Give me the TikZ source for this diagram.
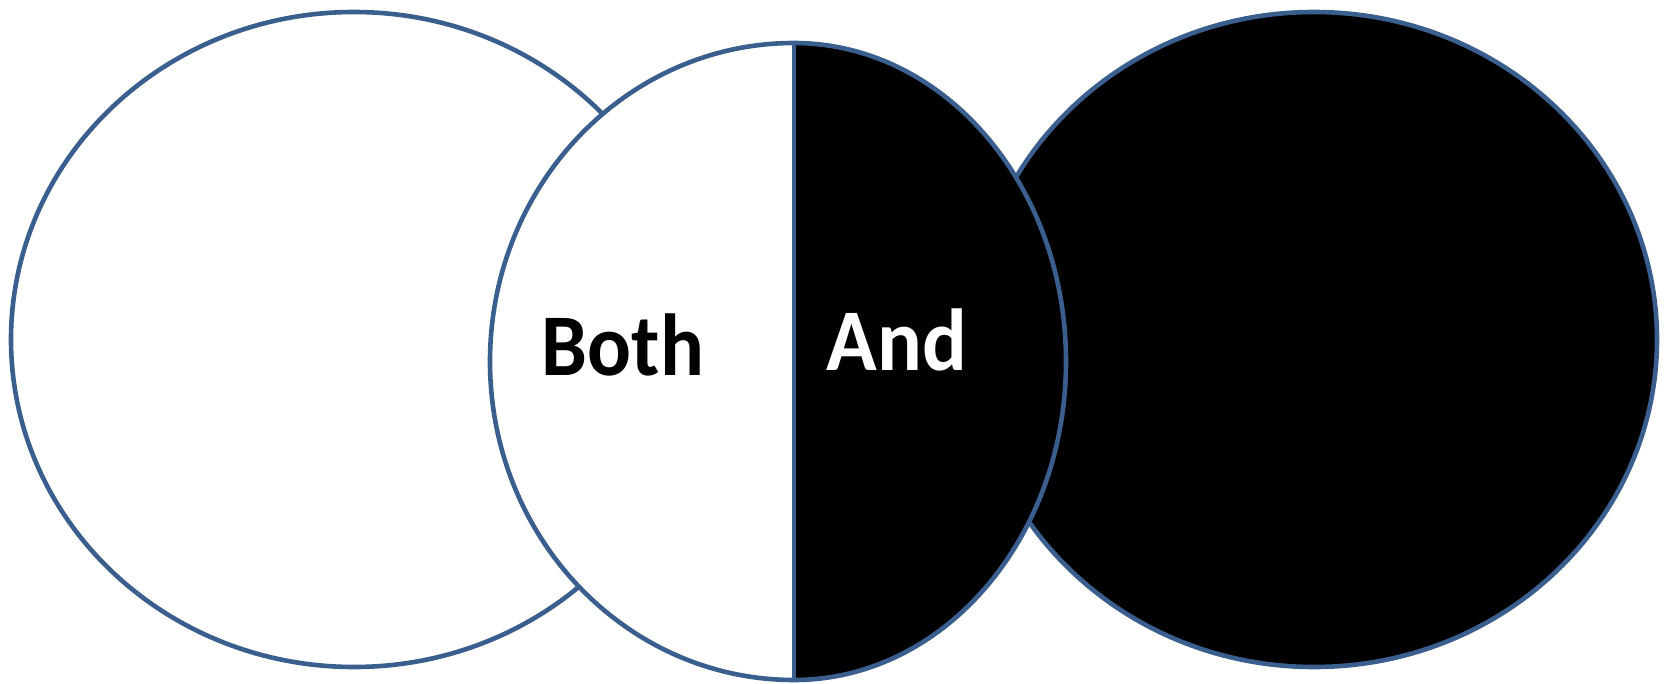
\documentclass[tikz,border=0pt]{standalone}
\usepackage{graphicx}
\usepackage{fontspec}
\setmainfont{Carlito}
\usetikzlibrary{positioning}
\definecolor{rimblue}{HTML}{3A5F8E}

\begin{document}
\begin{tikzpicture}[
  x=0.5pt, y=-0.5pt,
  rim/.style={draw=rimblue, line width=2.3pt, line join=round},
  word/.style={font=\bfseries\fontsize{44}{44}\selectfont, anchor=base, inner sep=0pt}
]
\useasboundingbox (0,0) rectangle (1667,684);
% outer sets
\draw[rim, fill=white] (354,339.5) ellipse [x radius=343, y radius=327.5];
\draw[rim, fill=black] (1314,339.5) ellipse [x radius=343, y radius=327.5];
% middle set, two halves
\coordinate (top) at (794,43);
\coordinate (bot) at (794,680);
\fill[white] (top) arc[start angle=270, end angle=90, x radius=304, y radius=318.5] -- cycle;
\fill[black] (top) arc[start angle=-90, end angle=90, x radius=272, y radius=318.5] -- cycle;
\draw[rim] (top) arc[start angle=270, end angle=90, x radius=304, y radius=318.5];
\draw[rim] (top) arc[start angle=-90, end angle=90, x radius=272, y radius=318.5];
\draw[rim] (top) -- (bot);
% labels
\node[word] (both) at (623,376) {\scalebox{0.93}[1]{Both}};
\node[word, text=white] (and) at (897,371) {\scalebox{0.95}[1]{And}};
\end{tikzpicture}
\end{document}
